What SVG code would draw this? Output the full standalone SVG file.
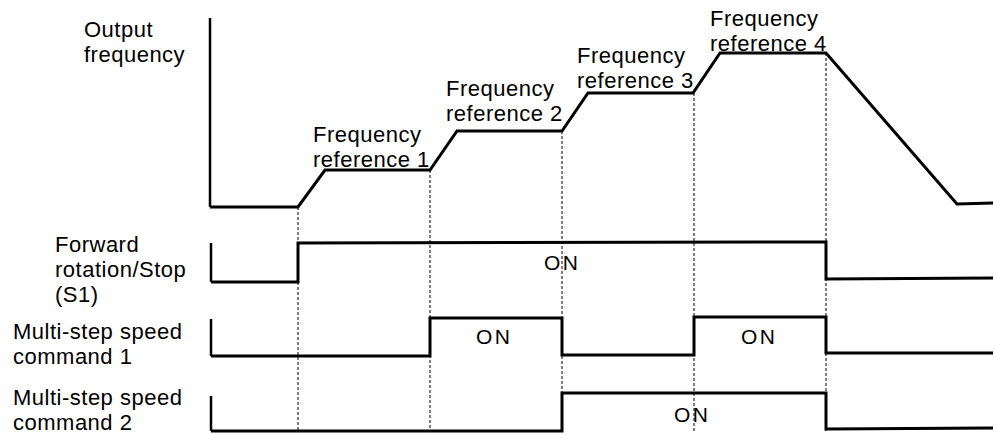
<svg xmlns="http://www.w3.org/2000/svg" width="995" height="434" viewBox="0 0 995 434">
<style>
text{font-family:"Liberation Sans",Arial,sans-serif;font-size:22px;letter-spacing:0.5px;fill:#000}
text.on{font-size:21px;letter-spacing:2.5px}
.sig{fill:none;stroke:#000;stroke-width:3;stroke-linejoin:miter}
.axis{fill:none;stroke:#000;stroke-width:2.5}
.guide{fill:none;stroke:#000;stroke-width:1;stroke-dasharray:3 2}
</style>
<rect width="995" height="434" fill="#fff"/>
<g id="guides">
<line class="guide" x1="298" y1="207" x2="298" y2="432"/>
<line class="guide" x1="430" y1="170" x2="430" y2="432"/>
<line class="guide" x1="562" y1="131" x2="562" y2="432"/>
<line class="guide" x1="694" y1="93" x2="694" y2="432"/>
<line class="guide" x1="826" y1="53" x2="826" y2="432"/>
</g>
<g id="output-frequency">
<text x="84" y="37">Output</text>
<text x="84" y="62">frequency</text>
<line class="axis" x1="210" y1="18" x2="210" y2="207"/>
<polyline class="sig" points="210,207 298,207 325,170 430,170 457,131 562,131 588,93 693,93 720,53 826,53 957,204 993,203"/>
<text x="313" y="142">Frequency</text>
<text x="313" y="167">reference 1</text>
<text x="446" y="96">Frequency</text>
<text x="446" y="121">reference 2</text>
<text x="577" y="63">Frequency</text>
<text x="577" y="88">reference 3</text>
<text x="710" y="26">Frequency</text>
<text x="710" y="51">reference 4</text>
</g>
<g id="forward-stop">
<text x="55" y="252">Forward</text>
<text x="55" y="277">rotation/Stop</text>
<text x="55" y="302">(S1)</text>
<polyline class="axis" points="211,243 211,282"/>
<polyline class="sig" points="211,282 298,282 298,243 826,242 826,279 993,278"/>
<text class="on" x="544" y="270">ON</text>
</g>
<g id="multi-step-1">
<text x="13" y="339">Multi-step speed</text>
<text x="13" y="364">command 1</text>
<polyline class="axis" points="211,319 211,356"/>
<polyline class="sig" points="211,356 430,356 430,318 562,318 562,355 694,355 694,317 826,317 826,353 993,353"/>
<text class="on" x="476" y="344">ON</text>
<text class="on" x="741" y="344">ON</text>
</g>
<g id="multi-step-2">
<text x="13" y="405">Multi-step speed</text>
<text x="13" y="430">command 2</text>
<polyline class="axis" points="211,396 211,431"/>
<polyline class="sig" points="211,431 562,431 562,393 826,393 826,429 993,428"/>
<text class="on" x="674" y="422">ON</text>
</g>
</svg>
